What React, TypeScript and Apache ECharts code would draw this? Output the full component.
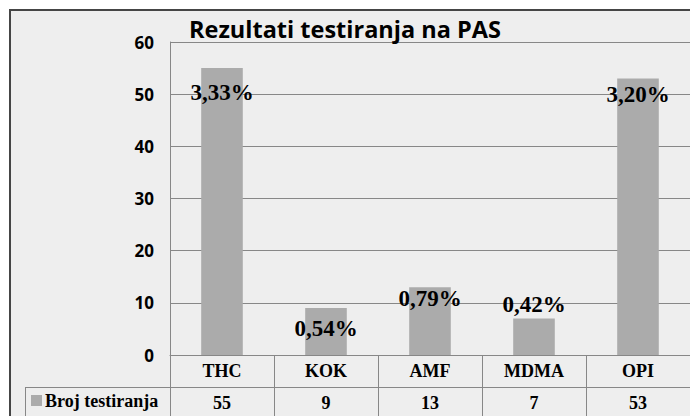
import React, { useEffect, useRef } from "react";
import * as echarts from "echarts";

const categories = ["THC", "KOK", "AMF", "MDMA", "OPI"];
const counts = [55, 9, 13, 7, 53];
const percentLabels = ["3,33%", "0,54%", "0,79%", "0,42%", "3,20%"];
const seriesName = "Broj testiranja";
const titleText = "Rezultati testiranja na PAS";
// label vertical nudges (style only)
const labelNudgeY = [13, 9, 0, -25, 4];

export default function App() {
  const ref = useRef<HTMLDivElement>(null);
  useEffect(() => {
    if (!ref.current) return;
    const chart = echarts.init(ref.current, undefined, { renderer: "svg" });
    const gridColor = "#878787";
    const serif = "Liberation Serif";
    const sans = "Open Sans";
    chart.setOption({
      animation: false,
      backgroundColor: "transparent",
      title: {
        text: titleText,
        left: 189,
        top: 17,
        padding: 0,
        textStyle: {
          fontFamily: sans,
          fontWeight: "bold",
          fontSize: 23.5,
          color: "#000",
        },
      },
      grid: { left: 170, top: 42, right: -8, bottom: 61, containLabel: false },
      xAxis: [
        {
          type: "category",
          data: categories,
          position: "bottom",
          axisLine: { show: true, lineStyle: { color: gridColor, width: 1 } },
          axisTick: { show: true, interval: 0, length: 70, lineStyle: { color: gridColor } },
          axisLabel: {
            interval: 0,
            margin: 7,
            fontFamily: serif,
            fontWeight: "bold",
            fontSize: 18,
            color: "#000",
          },
        },
        {
          type: "category",
          data: counts.map((v) => String(v)),
          position: "bottom",
          offset: 32,
          axisLine: { show: false },
          axisTick: { show: false },
          axisLabel: {
            interval: 0,
            margin: 7,
            fontFamily: serif,
            fontWeight: "bold",
            fontSize: 18,
            color: "#000",
          },
        },
      ],
      yAxis: {
        type: "value",
        min: 0,
        max: 60,
        interval: 10,
        axisLine: { show: true, lineStyle: { color: gridColor } },
        axisTick: { show: false },
        splitLine: { show: true, lineStyle: { color: gridColor, width: 1 } },
        axisLabel: {
          margin: 16,
          fontFamily: sans,
          fontWeight: "bold",
          fontSize: 17,
          color: "#000",
        },
      },
      series: [
        {
          name: seriesName,
          type: "bar",
          xAxisIndex: 0,
          barWidth: "40%",
          itemStyle: { color: "#ababab" },
          data: counts.map((v, i) => ({
            value: v,
            label: {
              show: true,
              position: "insideTop",
              distance: 0,
              offset: [0, labelNudgeY[i]],
              formatter: percentLabels[i],
              fontFamily: serif,
              fontWeight: "bold",
              fontSize: 23,
              color: "#000",
            },
          })),
        },
      ],
      graphic: [
        {
          type: "rect",
          z: -10,
          shape: { x: 10, y: 10, width: 700, height: 420 },
          style: { fill: "#eeeeee", stroke: "#454545", lineWidth: 2 },
        },
        {
          type: "line",
          z: 5,
          shape: { x1: 25, y1: 387.5, x2: 700, y2: 387.5 },
          style: { stroke: gridColor, lineWidth: 1 },
        },
        {
          type: "line",
          z: 5,
          shape: { x1: 25.5, y1: 387, x2: 25.5, y2: 420 },
          style: { stroke: gridColor, lineWidth: 1 },
        },
        {
          type: "rect",
          z: 5,
          shape: { x: 31, y: 395, width: 11, height: 11 },
          style: { fill: "#ababab" },
        },
        {
          type: "text",
          z: 5,
          x: 45,
          y: 401,
          style: {
            text: seriesName,
            fontFamily: serif,
            fontWeight: "bold",
            fontSize: 18,
            fill: "#000",
            verticalAlign: "middle",
          },
        },
      ],
    });
    return () => chart.dispose();
  }, []);
  return (
    <div
      style={{
        position: "fixed",
        left: 0,
        top: 0,
        width: 690,
        height: 416,
        background: "#ffffff",
        overflow: "hidden",
      }}
    >
      <div ref={ref} style={{ width: 690, height: 416 }} />
    </div>
  );
}
